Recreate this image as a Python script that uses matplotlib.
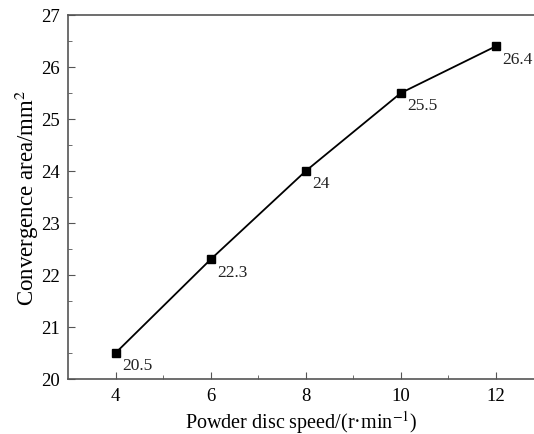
import numpy as np
import matplotlib

matplotlib.use("Agg")
from matplotlib import pyplot as plt

speed = [4, 6, 8, 10, 12]
area = [20.5, 22.3, 24.0, 25.5, 26.4]
labels = ["20.5", "22.3", "24", "25.5", "26.4"]

plt.rcParams['font.family'] = ['Liberation Serif', 'DejaVu Serif']
plt.rcParams['mathtext.fontset'] = 'stix'

fig = plt.figure(figsize=(5.34, 4.35), dpi=100)
ax = fig.add_axes([68 / 534, 1 - 380 / 435, 1 - 68 / 534, 364 / 435])

ax.plot(speed, area, color='black', lw=1.3, marker='s', ms=5.5, mfc='black')
for x, y, t in zip(speed, area, labels):
    ax.annotate(t, (x, y), xytext=(4.5, -9), textcoords='offset points',
                fontsize=12.5, color='#222222', va='center')

ax.set_xlim(3, 12.8)
ax.set_ylim(20, 27)
ax.set_xticks([4, 6, 8, 10, 12])
ax.set_xticks([5, 7, 9, 11], minor=True)
ax.set_yticks(np.arange(20, 28, 1))
ax.set_yticks(np.arange(20.5, 27, 1), minor=True)

for s in ax.spines.values():
    s.set_color('#555555')
    s.set_linewidth(1.2)
ax.spines['right'].set_visible(False)
ax.tick_params(which='both', direction='in', color='#555555', labelsize=13.5)
ax.tick_params(which='major', length=5, pad=6)
ax.tick_params(which='minor', length=3)

ax.set_xlabel('Powder disc speed/(r·min$^{-1}$)', fontsize=14.5, labelpad=3)
ax.set_ylabel('Convergence area/mm$^{2}$', fontsize=16.5, labelpad=0)

fig.savefig('out.png', dpi=100)
